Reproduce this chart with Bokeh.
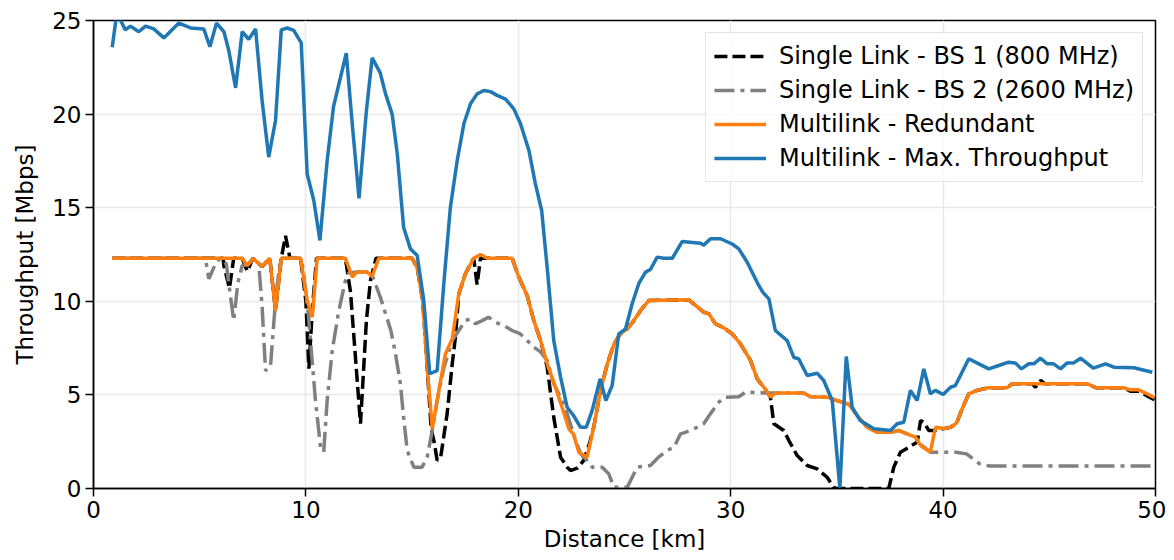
from bokeh.plotting import figure
from bokeh.models import Range1d, Legend, LegendItem, FixedTicker
from bokeh.embed import file_html
from bokeh.resources import INLINE

# ---------------- data ----------------
bs1_km = [0.88, 6.1, 6.14, 6.4, 6.6, 7.0, 7.24, 7.5, 7.94, 8.3, 8.57, 8.84, 9.04, 9.25, 9.75,
          10.0, 10.14, 10.3, 10.5, 11.86, 12.1, 12.57, 12.85, 13.04, 13.3, 15.0, 15.24, 15.5,
          15.71, 15.9, 16.05, 16.18, 16.35, 16.65, 16.89, 17.04, 17.2, 17.51, 17.9, 18.06,
          18.22, 18.54, 19.71, 20.02, 20.42, 20.73, 21.05, 21.36, 21.67, 21.99, 22.3, 22.46,
          22.8, 23.08, 23.35, 23.55, 23.87, 24.19, 24.5, 24.8, 25.13, 25.44, 25.75, 26.14,
          28.03, 28.73, 28.97, 29.28, 29.68, 30.07, 30.46, 30.93, 31.25, 31.56, 31.87, 32.03,
          32.5, 32.74, 33.13, 33.6, 34.07, 34.54, 34.85, 35.0, 37.44, 37.68, 37.99, 38.38,
          38.78, 38.94, 39.09, 39.33, 39.64, 40.03, 40.35, 40.63, 40.9, 41.21, 41.6, 42.15,
          43.0, 43.25, 44.2, 44.35, 44.59, 44.8, 46.8, 47.2, 48.5, 48.82, 49.2, 49.6, 49.95]
bs1_mbps = [12.3, 12.3, 11.9, 10.7, 12.3, 12.3, 11.6, 12.3, 11.85, 12.3, 9.5, 12.3, 13.5, 12.3, 12.3,
            10.0, 6.4, 9.5, 12.3, 12.3, 10.5, 3.46, 9.0, 11.1, 12.3, 12.3, 11.8, 10.04,
            6.48, 3.19, 2.4, 1.5, 1.7, 4.0, 6.66, 8.1, 10.4, 11.47, 12.3, 10.9,
            12.3, 12.3, 12.3, 11.3, 10.3, 8.97, 7.9, 6.48, 3.8, 1.67, 1.14, 0.96,
            1.1, 1.5, 2.4, 3.27, 5.24, 6.66, 7.7, 8.26, 8.53, 8.97, 9.5, 10.04,
            10.08, 9.42, 9.33, 8.8, 8.58, 8.26, 7.73, 6.84, 5.86, 5.41, 4.88, 3.46,
            3.1, 2.56, 1.76, 1.23, 1.05, 0.6, 0.05, 0.0, 0.0, 1.14, 1.94, 2.2,
            2.47, 3.63, 3.54, 3.1, 3.1, 3.2, 3.27, 3.49, 4.26, 5.06, 5.24, 5.38,
            5.38, 5.59, 5.59, 5.41, 5.77, 5.59, 5.59, 5.38, 5.38, 5.2, 5.2, 4.95, 4.75]

bs2_km = [0.88, 5.27, 5.43, 5.74, 5.95, 6.25, 6.6, 6.8, 7.0, 7.3, 7.6, 7.78, 7.94, 8.1, 8.33,
          8.57, 8.8, 9.8, 10.1, 10.45, 10.69, 10.84, 11.0, 11.24, 11.55, 11.86, 12.0, 12.4,
          12.9, 13.15, 13.51, 14.0, 14.22, 14.45, 14.6, 14.77, 15.08, 15.47, 15.71, 15.95,
          16.18, 16.5, 16.89, 17.2, 17.51, 17.75, 17.98, 18.3, 18.6, 18.93, 19.32, 19.71,
          20.1, 20.42, 20.73, 21.05, 21.36, 21.67, 21.99, 22.3, 22.6, 22.93, 23.24, 23.48,
          23.95, 24.26, 24.5, 25.13, 25.6, 26.22, 26.6, 27.0, 27.33, 27.64, 27.87, 28.42,
          28.73, 29.05, 29.44, 29.76, 30.38, 30.7, 31.72, 32.1, 33.44, 33.76, 34.54, 35.0,
          35.56, 35.95, 36.43, 36.9, 37.52, 37.9, 38.3, 38.7, 39.0, 39.4, 40.03, 40.6,
          41.1, 41.72, 42.18, 50.0]
bs2_mbps = [12.3, 12.3, 11.2, 12.0, 12.3, 12.0, 8.97, 11.0, 11.9, 12.0, 12.3, 12.0, 9.69, 6.3, 6.48,
            10.04, 12.3, 12.3, 9.5, 4.7, 2.2, 1.96, 4.7, 7.37, 9.5, 11.1, 11.5, 11.56,
            11.56, 11.3, 10.2, 8.44, 7.19, 5.59, 3.8, 2.03, 1.14, 1.14, 1.67, 3.1,
            4.7, 6.48, 7.9, 8.44, 8.97, 9.06, 8.8, 8.97, 9.15, 8.88, 8.7, 8.44,
            8.26, 7.9, 7.55, 7.3, 6.84, 5.6, 4.88, 4.0, 2.9, 1.86, 1.5, 1.14,
            1.14, 0.78, 0.07, 0.07, 1.14, 1.23, 1.67, 2.03, 2.2, 2.92, 3.0, 3.27,
            3.46, 4.0, 4.61, 4.88, 4.9, 5.15, 5.1, 5.1, 5.1, 4.9, 4.88, 4.7,
            4.5, 3.9, 3.27, 3.0, 3.0, 3.1, 2.92, 2.74, 2.3, 1.94, 1.94, 1.94,
            1.85, 1.32, 1.2, 1.2]

red_km = [0.88, 7.0, 7.24, 7.5, 7.94, 8.3, 8.57, 8.84, 9.75, 10.06, 10.3, 10.53, 11.86, 12.18,
          12.41, 12.88, 13.12, 13.43, 15.0, 15.24, 15.5, 15.71, 15.95, 16.26, 16.57, 16.89,
          17.2, 17.51, 17.9, 18.22, 18.54, 19.71, 20.02, 20.42, 20.73, 21.05, 21.36, 21.75,
          22.06, 22.38, 22.6, 22.85, 23.24, 23.55, 23.87, 24.19, 24.5, 24.8, 25.13, 25.44,
          25.75, 26.14, 28.03, 28.73, 28.97, 29.28, 29.68, 30.07, 30.46, 30.93, 31.25, 31.56,
          31.87, 32.1, 33.44, 33.76, 34.54, 35.0, 35.56, 35.95, 36.43, 36.9, 37.52, 37.9,
          38.3, 38.7, 38.94, 39.4, 39.64, 40.03, 40.35, 40.63, 40.9, 41.21, 41.6, 42.15,
          43.0, 43.25, 46.8, 47.2, 48.5, 48.82, 49.2, 49.6, 49.95]
red_mbps = [12.3, 12.3, 11.9, 12.3, 11.85, 12.3, 9.5, 12.3, 12.3, 10.04, 9.15, 12.3, 12.3, 11.3,
            11.56, 11.56, 11.33, 12.3, 12.3, 11.8, 10.04, 6.48, 3.19, 5.24, 7.19, 8.0,
            10.4, 11.47, 12.3, 12.5, 12.3, 12.3, 11.3, 10.3, 8.97, 7.9, 6.66, 5.4,
            4.34, 3.19, 2.9, 1.94, 1.67, 3.27, 5.24, 6.66, 7.7, 8.26, 8.53, 8.97,
            9.5, 10.04, 10.08, 9.42, 9.33, 8.8, 8.58, 8.26, 7.73, 6.84, 5.86, 5.41,
            4.88, 5.1, 5.1, 4.9, 4.88, 4.7, 4.5, 3.9, 3.27, 3.0, 3.0, 3.1,
            2.92, 2.74, 2.3, 1.94, 3.27, 3.2, 3.27, 3.49, 4.26, 5.06, 5.24, 5.38,
            5.38, 5.59, 5.59, 5.38, 5.38, 5.27, 5.27, 5.06, 4.85]

max_km = [0.88, 1.1, 1.5, 1.74, 2.13, 2.45, 2.84, 3.31, 4.02, 4.57, 5.19, 5.48, 5.79, 6.14,
          6.37, 6.69, 7.0, 7.31, 7.63, 7.94, 8.25, 8.57, 8.84, 9.12, 9.43, 9.78, 10.06, 10.37,
          10.66, 11.0, 11.3, 11.9, 12.18, 12.5, 12.85, 13.12, 13.5, 13.75, 14.06, 14.3, 14.6,
          14.92, 15.24, 15.55, 15.83, 16.18, 16.49, 16.8, 17.12, 17.44, 17.75, 18.06, 18.38,
          18.69, 19.0, 19.4, 19.79, 20.1, 20.5, 20.8, 21.1, 21.36, 21.67, 21.99, 22.3, 22.6,
          22.93, 23.2, 23.48, 23.85, 24.12, 24.42, 24.73, 25.05, 25.36, 25.67, 25.99, 26.22,
          26.54, 26.85, 27.25, 27.72, 28.58, 28.73, 29.05, 29.52, 30.07, 30.38, 30.77, 31.25,
          31.5, 31.8, 32.1, 32.66, 32.97, 33.2, 33.6, 34.07, 34.38, 34.78, 35.14, 35.44,
          35.72, 36.1, 36.74, 37.52, 37.84, 38.15, 38.46, 38.78, 39.09, 39.4, 39.64, 40.0,
          40.35, 40.58, 41.21, 41.68, 42.15, 42.62, 43.09, 43.4, 43.68, 44.04, 44.27, 44.59,
          44.9, 45.2, 45.53, 45.84, 46.15, 46.47, 47.07, 47.65, 48.04, 48.98, 49.85]
max_mbps = [23.57, 25.4, 24.5, 24.7, 24.4, 24.7, 24.55, 24.07, 24.86, 24.6, 24.55, 23.6, 24.86, 24.4,
            23.4, 21.4, 24.4, 24.0, 24.55, 20.7, 17.7, 19.66, 24.5, 24.6, 24.47, 23.8, 16.8, 15.4,
            13.25, 17.5, 20.4, 23.25, 19.5, 15.5, 20.2, 23.0, 22.2, 21.08, 20.0, 17.9, 13.96,
            12.8, 12.45, 10.04, 6.13, 6.3, 10.9, 15.0, 17.5, 19.5, 20.55, 21.08, 21.26,
            21.2, 21.0, 20.8, 20.28, 19.5, 18.06, 16.3, 14.85, 11.8, 7.9, 5.95, 4.34, 3.9,
            3.27, 3.27, 4.17, 5.86, 4.7, 5.5, 8.26, 8.53, 9.87, 10.94, 11.56, 11.7,
            12.36, 12.3, 12.3, 13.2, 13.1, 13.0, 13.34, 13.34, 13.06, 12.8, 12.1, 11.0,
            10.5, 10.13, 8.44, 7.9, 7.0, 6.93, 6.04, 6.16, 5.77, 4.7, 0.0, 7.05,
            4.34, 3.63, 3.19, 3.1, 3.46, 3.54, 5.24, 4.7, 6.39, 5.06, 5.24, 5.02,
            5.41, 5.5, 6.93, 6.66, 6.39, 6.57, 6.75, 6.71, 6.39, 6.66, 6.66, 6.96,
            6.66, 6.66, 6.39, 6.71, 6.71, 6.96, 6.43, 6.66, 6.48, 6.45, 6.21]

labels = ["Single Link - BS 1 (800 MHz)", "Single Link - BS 2 (2600 MHz)",
          "Multilink - Redundant", "Multilink - Max. Throughput"]
x_ticks = [0, 10, 20, 30, 40, 50]
y_ticks = [0, 5, 10, 15, 20, 25]

FONT = "DejaVu Sans"

p = figure(width=1166, height=560, output_backend="svg", toolbar_location=None,
           x_range=Range1d(0, 50), y_range=Range1d(0, 25),
           min_border_left=93, min_border_right=11, min_border_top=20, min_border_bottom=72)

p.background_fill_color = "white"
p.border_fill_color = "white"
p.outline_line_color = "black"
p.outline_line_width = 1.5

r1 = p.line(bs1_km, bs1_mbps, line_color="black", line_width=3.5, line_dash="13 5")
r2 = p.line(bs2_km, bs2_mbps, line_color="#808080", line_width=3.5, line_dash="20 6 4 6")
r3 = p.line(red_km, red_mbps, line_color="#ff7f0e", line_width=3.5)
r4 = p.line(max_km, max_mbps, line_color="#1f77b4", line_width=3.5)

p.xaxis.ticker = FixedTicker(ticks=x_ticks)
p.yaxis.ticker = FixedTicker(ticks=y_ticks)
for ax in (p.xaxis[0], p.yaxis[0]):
    ax.major_tick_out = 8
    ax.major_tick_in = 0
    ax.minor_tick_line_color = None
    ax.axis_line_color = "black"
    ax.axis_line_width = 1.5
    ax.major_tick_line_width = 1.5
    ax.major_label_text_font = FONT
    ax.major_label_text_font_size = "23px"
    ax.major_label_text_color = "black"
    ax.axis_label_text_font = FONT
    ax.axis_label_text_font_size = "23px"
    ax.axis_label_text_font_style = "normal"
    ax.axis_label_text_color = "black"
    ax.major_label_standoff = 4

p.xaxis.axis_label = "Distance [km]"
p.yaxis.axis_label = "Throughput [Mbps]"
p.xaxis.axis_label_standoff = 5
p.yaxis.axis_label_standoff = 11

p.grid.grid_line_color = "#e8e8e8"
p.grid.grid_line_width = 1.5

legend = Legend(items=[LegendItem(label=labels[0], renderers=[r1]),
                       LegendItem(label=labels[1], renderers=[r2]),
                       LegendItem(label=labels[2], renderers=[r3]),
                       LegendItem(label=labels[3], renderers=[r4])],
                location="top_right")
legend.label_text_font = FONT
legend.label_text_font_size = "24px"
legend.label_text_color = "black"
legend.glyph_width = 52
legend.glyph_height = 30
legend.label_height = 30
legend.spacing = 4
legend.padding = 8
legend.margin = 12
legend.label_standoff = 13
legend.border_line_color = "#cccccc"
legend.border_line_width = 1.5
legend.background_fill_color = "white"
legend.background_fill_alpha = 0.8
p.add_layout(legend)

open("out.html", "w").write(file_html(p, INLINE))
